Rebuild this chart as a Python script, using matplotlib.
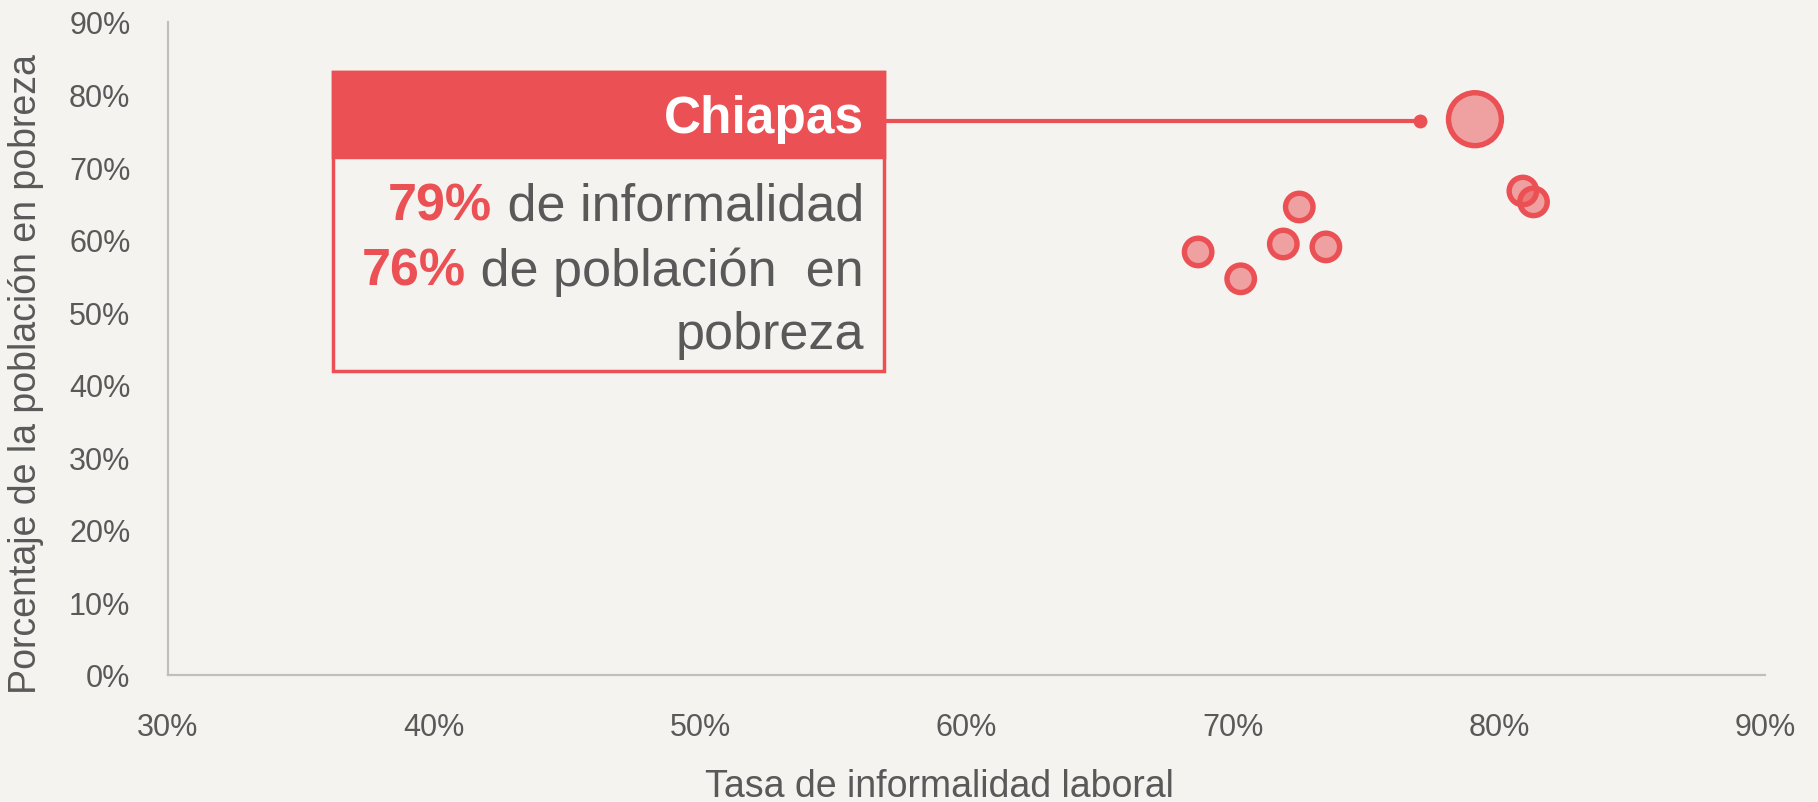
import matplotlib
matplotlib.use("Agg")
import matplotlib.pyplot as plt
from matplotlib.patches import Rectangle
from matplotlib.ticker import FuncFormatter

# tasa de informalidad laboral (%) y poblacion en pobreza (%)
informalidad = [79.1, 80.9, 81.3, 72.5, 68.7, 70.3, 71.9, 73.5]
pobreza = [76.6, 66.7, 65.2, 64.5, 58.3, 54.6, 59.4, 59.0]
destacado = 0  # Chiapas
nombre_destacado = "Chiapas"
linea1 = ("79%", " de informalidad")
linea2 = ("76%", " de población  en")
linea3 = "pobreza"

ROJO = "#EB5054"
GRIS = "#595959"
FONDO = "#F4F3EF"

plt.rcParams["font.family"] = ["Liberation Sans", "DejaVu Sans"]

fig = plt.figure(figsize=(18.18, 8.03), dpi=100, facecolor=FONDO)
ax = fig.add_axes([0.0924, 0.1582, 0.8785, 0.8132])
ax.set_facecolor(FONDO)

sizes = [1450 if i == destacado else 390 for i in range(len(informalidad))]
ax.scatter(informalidad, pobreza, s=sizes, facecolor=ROJO, alpha=0.5, linewidths=0, zorder=3)
ax.scatter(informalidad, pobreza, s=sizes, facecolor="none", edgecolor=ROJO, linewidths=3.9, zorder=4)

ax.set_xlim(30, 90)
ax.set_ylim(0, 90)
ax.set_xticks(range(30, 91, 10))
ax.set_yticks(range(0, 91, 10))
fmt = FuncFormatter(lambda v, p: f"{v:.0f}%")
ax.xaxis.set_major_formatter(fmt)
ax.yaxis.set_major_formatter(fmt)
ax.tick_params(length=0, labelsize=22, labelcolor=GRIS)
ax.tick_params(axis="y", pad=27)
ax.tick_params(axis="x", pad=27)
for s in ["top", "right"]:
    ax.spines[s].set_visible(False)
for s in ["left", "bottom"]:
    ax.spines[s].set_color("#BFBFBF")
    ax.spines[s].set_linewidth(1.6)

ax.set_xlabel("Tasa de informalidad laboral", fontsize=27, color=GRIS)
ax.set_ylabel("Porcentaje de la población en pobreza", fontsize=27, color=GRIS)
ax.xaxis.set_label_coords(0.483, -0.142)
ax.yaxis.set_label_coords(-0.0776, 0.462)

# recuadro de Chiapas
x0, x1 = 36.2, 56.9
y_top, y_head, y_bot = 83.1, 71.4, 41.9
ax.add_patch(Rectangle((x0, y_bot), x1 - x0, y_top - y_bot, facecolor=FONDO,
                       edgecolor=ROJO, linewidth=2.5, zorder=5, clip_on=False))
ax.add_patch(Rectangle((x0, y_head), x1 - x0, y_top - y_head, facecolor=ROJO,
                       edgecolor=ROJO, linewidth=2.5, zorder=6, clip_on=False))

xd, yd = informalidad[destacado], pobreza[destacado]
ax.plot([x1, xd - 2.05], [yd - 0.3, yd - 0.3], color=ROJO, lw=3, zorder=2)
ax.plot([xd - 2.05], [yd - 0.3], "o", color=ROJO, ms=9, zorder=2)

x_txt = 56.15
ax.text(x_txt, 76.7, nombre_destacado, ha="right", va="center", fontsize=37,
        fontweight="bold", color="white", zorder=7)

fig.canvas.draw()
for y, (num, resto) in [(62.8, linea1), (53.8, linea2)]:
    t = ax.text(x_txt, y, resto, ha="right", va="baseline", fontsize=37.5, color=GRIS, zorder=7)
    bb = t.get_window_extent(renderer=fig.canvas.get_renderer())
    xl = ax.transData.inverted().transform((bb.x0 - 1, bb.y0))[0]
    ax.text(xl, y, num, ha="right", va="baseline", fontsize=37.5, fontweight="bold",
            color=ROJO, zorder=7)
ax.text(x_txt, 45.0, linea3, ha="right", va="baseline", fontsize=37.5, color=GRIS, zorder=7)

fig.savefig("out.png", dpi=100, facecolor=FONDO)
